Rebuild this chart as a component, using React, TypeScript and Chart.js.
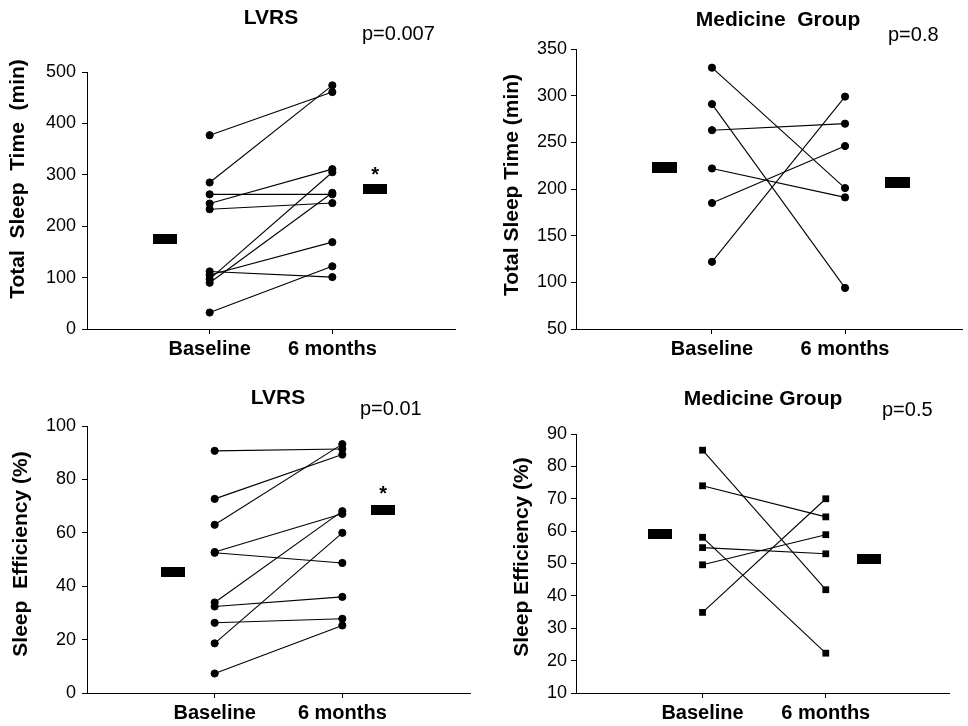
import React, { useEffect, useRef } from "react";
import Chart from "chart.js/auto";

// ---------- data ----------
const categories = ["Baseline", "6 months"];

const tstLvrsBaseline = [377, 285, 262, 244, 233, 112, 105, 97, 90, 32];
const tstLvrs6m = [461, 474, 262, 311, 245, 101, 169, 305, 265, 122];
const tstLvrsMeans = [176, 272];

const tstMedBaseline = [330, 291, 263, 222, 185, 122];
const tstMed6m = [201, 94, 270, 191, 246, 299];
const tstMedMeans = [223, 207];

const seLvrsBaseline = [90.7, 72.7, 63, 52.8, 52.5, 33.9, 32.4, 26.3, 18.6, 7.3];
const seLvrs6m = [91.4, 89.3, 93.2, 67.1, 48.7, 68.1, 36, 27.8, 60, 25.3];
const seLvrsMeans = [45.3, 68.7];

const seMedBaseline = [85, 74, 58.1, 54.9, 49.6, 34.9];
const seMed6m = [41.9, 64.4, 22.3, 53, 58.9, 70];
const seMedMeans = [59.2, 51.5];

const FONT = "'Liberation Sans', Arial, Helvetica, sans-serif";

type PanelCfg = {
  left: number; top: number; w: number; h: number;
  area: { l: number; r: number; t: number; b: number };
  yMin: number; yMax: number; yStep: number; tickPad: number;
  xMin: number; xMax: number; meanX: [number, number];
  base: number[]; after: number[]; means: number[];
  square: boolean;
  title: string; titleX: number; titleY: number;
  pText: string; pX: number; pY: number;
  yTitle: string; yTitleX: number; yTitleY: number;
  star: boolean; starOffset: number;
  barW: number; barH: number;
};

const panels: PanelCfg[] = [
  {
    left: 0, top: 0, w: 484, h: 363,
    area: { l: 87, r: 455, t: 72, b: 329 },
    yMin: 0, yMax: 500, yStep: 100, tickPad: 6,
    xMin: 0, xMax: 3, meanX: [0.636, 2.348],
    base: tstLvrsBaseline, after: tstLvrs6m, means: tstLvrsMeans,
    square: false,
    title: "LVRS", titleX: 271, titleY: 18,
    pText: "p=0.007", pX: 362, pY: 34,
    yTitle: "Total  Sleep  Time  (min)", yTitleX: 18, yTitleY: 179,
    star: true, starOffset: 19, barW: 24, barH: 10,
  },
  {
    left: 480, top: 0, w: 488, h: 363,
    area: { l: 96, r: 483, t: 49, b: 329 },
    yMin: 50, yMax: 350, yStep: 50, tickPad: 4,
    xMin: -0.022, xMax: 2.879, meanX: [0.645, 2.397],
    base: tstMedBaseline, after: tstMed6m, means: tstMedMeans,
    square: false,
    title: "Medicine  Group", titleX: 298, titleY: 20,
    pText: "p=0.8", pX: 408, pY: 35,
    yTitle: "Total Sleep Time (min)", yTitleX: 32, yTitleY: 185,
    star: false, starOffset: 0, barW: 25, barH: 11,
  },
  {
    left: 0, top: 360, w: 484, h: 366,
    area: { l: 87, r: 470, t: 66, b: 333 },
    yMin: 0, yMax: 100, yStep: 20, tickPad: 6,
    xMin: 0, xMax: 3, meanX: [0.67, 2.32],
    base: seLvrsBaseline, after: seLvrs6m, means: seLvrsMeans,
    square: false,
    title: "LVRS", titleX: 278, titleY: 38,
    pText: "p=0.01", pX: 360, pY: 49,
    yTitle: "Sleep  Efficiency (%)", yTitleX: 21, yTitleY: 194,
    star: true, starOffset: 21, barW: 24, barH: 10,
  },
  {
    left: 480, top: 360, w: 488, h: 366,
    area: { l: 96, r: 469, t: 74, b: 333 },
    yMin: 10, yMax: 90, yStep: 10, tickPad: 4,
    xMin: -0.027, xMax: 3.0, meanX: [0.652, 2.347],
    base: seMedBaseline, after: seMed6m, means: seMedMeans,
    square: true,
    title: "Medicine Group", titleX: 283, titleY: 39,
    pText: "p=0.5", pX: 402, pY: 50,
    yTitle: "Sleep Efficiency (%)", yTitleX: 42, yTitleY: 197,
    star: false, starOffset: 0, barW: 24, barH: 10,
  },
];

function makeBar(w: number, h: number) {
  const c = document.createElement("canvas");
  c.width = w; c.height = h;
  const g = c.getContext("2d")!;
  g.fillStyle = "#000";
  g.fillRect(0, 0, w, h);
  return c;
}

function Panel({ cfg }: { cfg: PanelCfg }) {
  const ref = useRef<HTMLCanvasElement | null>(null);
  useEffect(() => {
    if (!ref.current) return;
    const bar = makeBar(cfg.barW, cfg.barH);
    const pairSets = cfg.base.map((b, i) => ({
      type: "line" as const,
      data: [{ x: 1, y: b }, { x: 2, y: cfg.after[i] }],
      borderColor: "#000",
      borderWidth: 1.1,
      pointStyle: cfg.square ? "rect" : "circle",
      pointRadius: cfg.square ? 4.8 : 3.6,
      pointBackgroundColor: "#000",
      pointBorderColor: "#000",
      pointBorderWidth: cfg.square ? 0 : 1,
      fill: false,
      tension: 0,
    }));
    const meanSet = {
      type: "line" as const,
      data: [
        { x: cfg.meanX[0], y: cfg.means[0] },
        { x: cfg.meanX[1], y: cfg.means[1] },
      ],
      showLine: false,
      pointStyle: bar,
      pointRadius: 5,
      borderColor: "#000",
      backgroundColor: "#000",
    };
    const annot = {
      id: "annot",
      afterDraw(chart: any) {
        const ctx = chart.ctx;
        ctx.save();
        ctx.fillStyle = "#000";
        ctx.textBaseline = "middle";
        ctx.textAlign = "center";
        ctx.font = `bold 21px ${FONT}`;
        ctx.fillText(cfg.title, cfg.titleX, cfg.titleY);
        ctx.textAlign = "left";
        ctx.font = `20px ${FONT}`;
        ctx.fillText(cfg.pText, cfg.pX, cfg.pY);
        ctx.save();
        ctx.translate(cfg.yTitleX, cfg.yTitleY);
        ctx.rotate(-Math.PI / 2);
        ctx.textAlign = "center";
        ctx.font = `bold 21px ${FONT}`;
        ctx.fillText(cfg.yTitle, 0, 0);
        ctx.restore();
        if (cfg.star) {
          const xs = chart.scales.x.getPixelForValue(cfg.meanX[1]);
          const ys = chart.scales.y.getPixelForValue(cfg.means[1]);
          ctx.textAlign = "center";
          ctx.textBaseline = "alphabetic";
          ctx.font = `bold 20px ${FONT}`;
          ctx.fillText("*", xs, ys - cfg.starOffset + 11);
        }
        ctx.restore();
      },
    };
    const chart = new Chart(ref.current, {
      type: "line",
      data: { datasets: [...pairSets, meanSet] as any },
      options: {
        responsive: false,
        animation: false,
        events: [],
        layout: {
          padding: { left: 0, top: cfg.area.t, right: cfg.w - cfg.area.r, bottom: 0 },
        },
        plugins: { legend: { display: false }, tooltip: { enabled: false }, title: { display: false } },
        scales: {
          x: {
            type: "linear",
            min: cfg.xMin,
            max: cfg.xMax,
            afterBuildTicks: (s: any) => {
              s.ticks = [{ value: 1 }, { value: 2 }];
            },
            afterFit: (s: any) => {
              s.height = cfg.h - cfg.area.b;
            },
            ticks: {
              autoSkip: false,
              maxRotation: 0,
              color: "#000",
              padding: 3,
              font: { family: FONT, size: 20, weight: "bold" },
              callback: (v: any) => categories[Number(v) - 1] ?? "",
            },
            grid: { drawOnChartArea: false, drawTicks: true, tickLength: 5, color: "#000", lineWidth: 1 },
            border: { display: true, color: "#000", width: 1 },
          },
          y: {
            type: "linear",
            min: cfg.yMin,
            max: cfg.yMax,
            afterFit: (s: any) => {
              s.width = cfg.area.l;
            },
            ticks: {
              stepSize: cfg.yStep,
              color: "#000",
              padding: cfg.tickPad,
              font: { family: FONT, size: 18 },
            },
            grid: { drawOnChartArea: false, drawTicks: true, tickLength: 5, color: "#000", lineWidth: 1 },
            border: { display: true, color: "#000", width: 1 },
          },
        },
      },
      plugins: [annot],
    });
    return () => chart.destroy();
  }, [cfg]);
  return (
    <canvas
      ref={ref}
      width={cfg.w}
      height={cfg.h}
      style={{ position: "absolute", left: cfg.left, top: cfg.top, width: cfg.w, height: cfg.h }}
    />
  );
}

export default function App() {
  return (
    <div style={{ position: "fixed", left: 0, top: 0, width: 968, height: 726, background: "#fff", overflow: "hidden" }}>
      {panels.map((p, i) => (
        <Panel key={i} cfg={p} />
      ))}
    </div>
  );
}
